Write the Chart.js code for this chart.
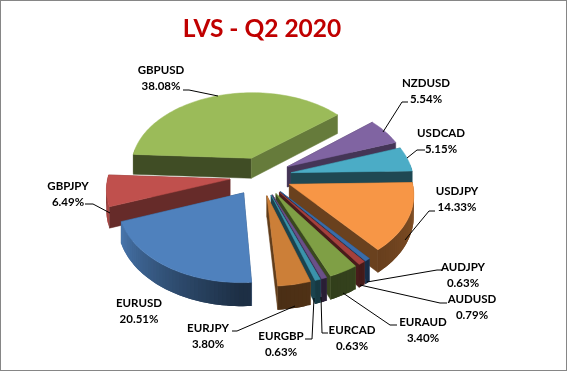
<!DOCTYPE html>
<html>
<head>
<meta charset="utf-8">
<script src="https://cdn.jsdelivr.net/npm/chart.js@4"></script>
<style>
  html, body { margin:0; padding:0; background:#fff; }
  #wrap { width:567px; height:371px; box-sizing:border-box; border:1px solid #868686; position:relative; }
  #wrap canvas { position:absolute; left:-1px; top:-1px; }
</style>
</head>
<body>
<div id="wrap"><canvas id="pie" width="567" height="371"></canvas></div>
<script>
// data, clockwise
const pairs = ['AUDJPY','AUDUSD','EURAUD','EURCAD','EURGBP','EURJPY','EURUSD','GBPJPY','GBPUSD','NZDUSD','USDCAD','USDJPY'];
const shares = [0.63,0.79,3.40,0.63,0.63,3.80,20.51,6.49,38.08,5.54,5.15,14.33];
const colours = ['#3A6CA8','#A5403D','#7F9F45','#6A5088','#3B93AB','#CC7F38','#4F81BD','#C0504D','#9BBB59','#8064A2','#4BACC6','#F79646'];

// label placement: centre x, first line y, leader polyline
const labelSpots = [
  [463,267,[[442,270],[437,270],[367,282]]],
  [472,299,[[447,303],[440,303],[360,285]]],
  [423,322,[[397,325],[390,325],[343,293]]],
  [352,330,[[328,333],[322,333],[321,297]]],
  [281,336,[[305,339],[312,339],[314,298]]],
  [208,328,[[232,331],[237,331],[295,306]]],
  [139,303,null],
  [68,186,[[85,204],[93,204],[110,213]]],
  [161,70,[[183,90],[189,90],[218,96]]],
  [426,83,[[408,102],[402,102],[383,132]]],
  [441,133,[[425,150],[417,150],[407,158]]],
  [457,191,[[435,211],[429,211],[405,240]]]
];

// view settings for the 3d look
const TILT = 0.625, PERSP = 1135, DEPTH = 20.5;
const radialShade = [[0,.6],[140,.66],[160,.53],[180,.41],[230,.43],[360,.6]];
const outerShade = [[0,.55],[90,.55],[140,.42],[180,.36],[250,.92],[272,.6],[360,.55]];

const lerpTable = (tb, a) => {
  a = ((a % 360) + 360) % 360;
  for(let i=1;i<tb.length;i++){
    if(a <= tb[i][0]){
      const t = (a-tb[i-1][0])/(tb[i][0]-tb[i-1][0]);
      return tb[i-1][1] + t*(tb[i][1]-tb[i-1][1]);
    }
  }
  return tb[tb.length-1][1];
};
const shade = (hex, f) => {
  const n = parseInt(hex.slice(1),16);
  return `rgb(${Math.round((n>>16)*f)},${Math.round(((n>>8)&255)*f)},${Math.round((n&255)*f)})`;
};
const fromTop = rad => rad*180/Math.PI + 90;

// draws each arc element of the pie as an extruded slice
const pie3d = {
  id:'pie3d',
  beforeDatasetsDraw(chart){
    const ctx = chart.ctx;
    const arcs = chart.getDatasetMeta(0).data;
    const cx = arcs[0].x - 1.2, cy = arcs[0].y;
    const proj = (u,v,z) => {
      const f = PERSP/(PERSP-v);
      return [cx+u*f, cy+(v*TILT+z)*f];
    };
    const fillPoly = (pts, col, edge) => {
      ctx.beginPath();
      pts.forEach((p,i)=> i ? ctx.lineTo(p[0],p[1]) : ctx.moveTo(p[0],p[1]));
      ctx.closePath();
      ctx.fillStyle = col;
      ctx.fill();
      if(edge){ ctx.strokeStyle = col; ctx.lineWidth = 0.5; ctx.stroke(); }
    };
    const wallQuad = (p,q) => [proj(p[0],p[1],0),proj(q[0],q[1],0),proj(q[0],q[1],DEPTH),proj(p[0],p[1],DEPTH)];
    const slices = arcs.map((arc,i)=>{
      const mid = (arc.startAngle+arc.endAngle)/2, off = arc.options.offset;
      return { arc, i, mid, ou:off*Math.cos(mid), ov:off*Math.sin(mid) };
    });
    slices.sort((a,b)=> (a.ov+a.arc.outerRadius*.6*Math.sin(a.mid)) - (b.ov+b.arc.outerRadius*.6*Math.sin(b.mid)));
    slices.forEach(s=>{
      const {arc, i, ou, ov} = s;
      const r = arc.outerRadius, col = colours[i];
      const steps = Math.max(2, Math.ceil((arc.endAngle-arc.startAngle)/0.03));
      const rim = [];
      for(let j=0;j<=steps;j++){
        const a = arc.startAngle + (arc.endAngle-arc.startAngle)*j/steps;
        rim.push([ou+r*Math.cos(a), ov+r*Math.sin(a), a]);
      }
      // straight walls, normal angle measured clockwise from the back
      const apex = [ou,ov];
      const radial = [
        { edge:rim[0], n:fromTop(arc.startAngle)-90 },
        { edge:rim[rim.length-1], n:fromTop(arc.endAngle)+90 }
      ];
      const faceFront = w => Math.cos(w.n*Math.PI/180) < 0;
      radial.filter(w=>!faceFront(w)).forEach(w=> fillPoly(wallQuad(apex,w.edge), shade(col,lerpTable(radialShade,w.n)), true));
      // curved wall, each strip runs on under the next so no seams show
      for(let j=0;j<steps;j++){
        const m = (rim[j][2]+rim[j+1][2])/2;
        if(Math.sin(m) < -0.1) continue;
        const far = rim[Math.min(j+2,steps)];
        fillPoly([...wallQuad(rim[j],rim[j+1]).slice(0,2), proj(far[0],far[1],0), proj(far[0],far[1],DEPTH), ...wallQuad(rim[j],rim[j+1]).slice(2)], shade(col,lerpTable(outerShade,fromTop(m))), false);
      }
      radial.filter(faceFront).forEach(w=> fillPoly(wallQuad(apex,w.edge), shade(col,lerpTable(radialShade,w.n)), true));
      const top = [proj(ou,ov,0)];
      rim.forEach(p=> top.push(proj(p[0],p[1],0)));
      fillPoly(top, col, true);
    });
    return false;
  },
  afterDraw(chart){
    const ctx = chart.ctx;
    ctx.save();
    ctx.strokeStyle = '#000'; ctx.lineWidth = 1;
    labelSpots.forEach(s=>{
      if(!s[2]) return;
      ctx.beginPath();
      s[2].forEach((p,i)=> i ? ctx.lineTo(p[0],p[1]) : ctx.moveTo(p[0],p[1]));
      ctx.stroke();
    });
    ctx.fillStyle = '#000';
    ctx.font = 'bold 11.5px Lato';
    ctx.textAlign = 'center'; ctx.textBaseline = 'middle';
    pairs.forEach((name,i)=>{
      const s = labelSpots[i];
      ctx.fillText(name, s[0], s[1]);
      ctx.fillText(shares[i].toFixed(2)+'%', s[0], s[1]+16);
    });
    ctx.restore();
  }
};

new Chart(document.getElementById('pie'), {
  type:'pie',
  data:{ labels:pairs, datasets:[{ data:shares, backgroundColor:colours, offset:31, borderWidth:0 }] },
  options:{
    responsive:false, animation:false, rotation:140.3, radius:122,
    layout:{ padding:{ top:8, right:43, bottom:73, left:0 } },
    plugins:{
      legend:{ display:false }, tooltip:{ enabled:false },
      title:{ display:true, text:'LVS - Q2 2020', color:'#C00000', font:{ family:'Lato', size:24.5, weight:'bold' }, padding:{ top:6, bottom:11 } }
    }
  },
  plugins:[pie3d]
});
</script>
</body>
</html>
